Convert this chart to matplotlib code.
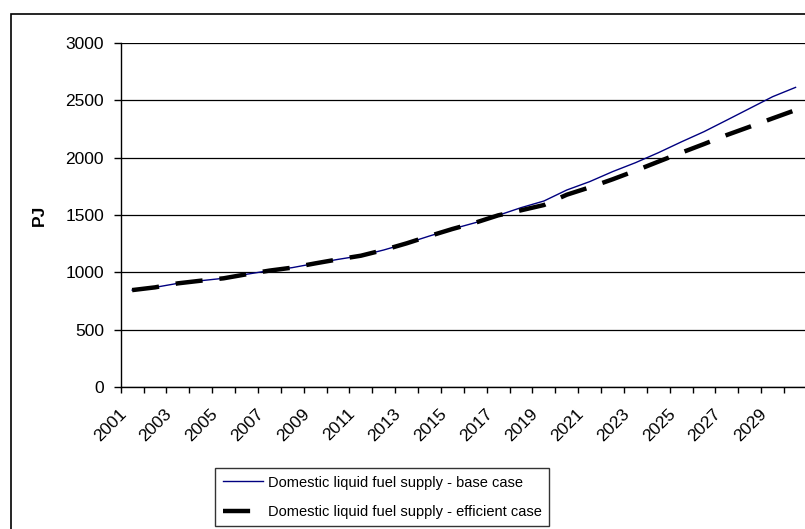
import matplotlib
matplotlib.use("Agg")
import matplotlib.pyplot as plt
import matplotlib.transforms as mtransforms
from matplotlib import font_manager
from matplotlib.patches import Rectangle

years = list(range(2001, 2031))
base_case = [845, 869, 904, 927, 948, 983, 1015, 1041, 1078, 1113,
             1145, 1195, 1253, 1317, 1378, 1433, 1497, 1564, 1622, 1718,
             1791, 1878, 1956, 2043, 2137, 2227, 2328, 2430, 2532, 2613]
efficient_case = [845, 869, 904, 927, 948, 983, 1015, 1041, 1078, 1113,
                  1145, 1195, 1253, 1317, 1378, 1433, 1497, 1541, 1587, 1677,
                  1741, 1811, 1886, 1965, 2043, 2119, 2198, 2270, 2343, 2415]
y_ticks = [0, 500, 1000, 1500, 2000, 2500, 3000]
label_base = "Domestic liquid fuel supply - base case"
label_eff = "Domestic liquid fuel supply - efficient case"

installed = {f.name for f in font_manager.fontManager.ttflist}
main_font = "Liberation Sans" if "Liberation Sans" in installed else "DejaVu Sans"
plt.rcParams["font.family"] = [main_font, "DejaVu Sans"]

W, H = 805, 529
fig = plt.figure(figsize=(W / 100, H / 100), dpi=100)

# chart-area border (cropped at right and bottom like the reference)
fig.patches.append(Rectangle((11 / W, -0.05), 1.2, 1 - 14 / H + 0.05,
                             transform=fig.transFigure, fill=False,
                             edgecolor="black", linewidth=1.2))

left, right, top, bottom = 120.7, 807.0, 43.0, 387.0
ax = fig.add_axes([left / W, 1 - bottom / H, (right - left) / W, (bottom - top) / H])

x = list(range(len(years)))
ax.plot(x, base_case, color="#000080", linewidth=1.0, label=label_base, zorder=3)
ax.plot(x, efficient_case, color="black", linewidth=3.2, dashes=(6.1, 3.8),
        label=label_eff, zorder=4)

ax.set_xlim(-0.5, len(years) - 0.5)
ax.set_ylim(0, 3000)
ax.set_yticks(y_ticks)
ax.yaxis.grid(True, color="black", linewidth=0.9)
ax.set_axisbelow(True)

for side in ("top", "right"):
    ax.spines[side].set_visible(False)
for side in ("left", "bottom"):
    ax.spines[side].set_linewidth(1.0)

ax.tick_params(axis="y", direction="out", length=5, width=1.0, pad=7, labelsize=12.5)

# tick marks between categories, labels on every other category
ax.set_xticks([i - 0.5 for i in range(len(years))])
ax.tick_params(axis="x", which="major", direction="out", length=4.5, width=1.0,
               labelbottom=False)
lab_pos = x[::2]
ax.set_xticks(lab_pos, [str(years[i]) for i in lab_pos], minor=True)
ax.tick_params(axis="x", which="minor", length=0, pad=14, labelsize=12.5)
offset = mtransforms.ScaledTranslation(-3 / 100, 0, fig.dpi_scale_trans)
for lab in ax.get_xticklabels(minor=True):
    lab.set_rotation(45)
    lab.set_ha("right")
    lab.set_va("top")
    lab.set_transform(lab.get_transform() + offset)

ax.set_ylabel("PJ", fontsize=12.5, fontweight="bold")
ax.yaxis.set_label_coords(-(left - 47) / (right - left), 0.5)

leg = fig.legend(loc="upper left", bbox_to_anchor=(215 / W, 1 - 468 / H),
                 frameon=True, fancybox=False, shadow=False,
                 prop={"size": 10.5},
                 handlelength=2.75, handletextpad=0.33, labelspacing=1.05,
                 borderpad=0.52, borderaxespad=0)
leg.get_frame().set_edgecolor("black")
leg.get_frame().set_linewidth(1.0)

fig.savefig("out.png", dpi=100)
